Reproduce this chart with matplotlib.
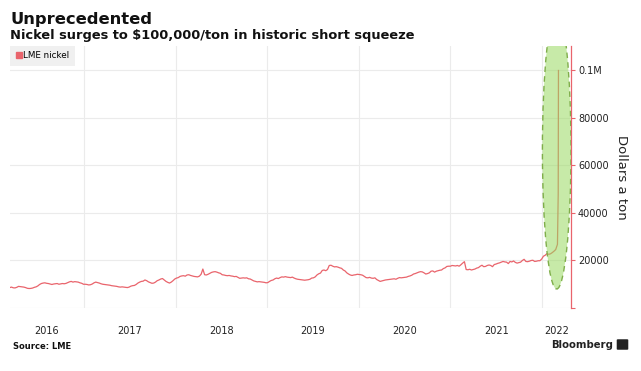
#!/usr/bin/env python3
"""LME nickel short squeeze chart, Bloomberg style."""

import datetime as dt

import matplotlib
matplotlib.use("Agg")
import matplotlib.dates as mdates
import matplotlib.pyplot as plt
import pandas as pd
from matplotlib.lines import Line2D
from matplotlib.patches import Ellipse, FancyBboxPatch

# weekly LME nickel, Fridays, dollars a ton
NICKEL_2016 = [
    8600, 8800, 8500,
    8450, 8700, 9100, 9000, 8900,
    8800, 8600, 8300, 8200,
    8250, 8400, 8700, 8900,
    9300, 9900, 10300, 10500, 10600,
    10400, 10300, 10100, 9900,
    10100, 10200, 10300, 10000, 10150,
    10300, 10200, 10350, 10700,
    11000, 11200, 10900, 11100,
    11000, 10900, 10600, 10400, 10000,
]
NICKEL_2017 = [
    10000, 9900, 9700, 9800,
    10100, 10600, 10900, 10700,
    10500, 10200, 10000, 9900, 9800,
    9700, 9600, 9400, 9300,
    9200, 9100, 8900, 8800,
    8900, 8800, 8700, 8600, 8800,
    9200, 9400, 9500, 9900,
    10500, 10900, 11200, 11300,
    11800, 11500, 11000, 10700, 10400,
    10500, 10900, 11500, 11800,
    12200, 12400, 11800, 11200,
    10800, 10500, 10900, 11500, 12200,
]
NICKEL_2018 = [
    12600, 12800, 13300, 13500,
    13600, 13400, 13900, 14000,
    13700, 13500, 13300, 13200, 13100,
    13400, 14200, 16400, 14000,
    13900, 14200, 14600, 15000,
    15200, 15300, 15100, 14800, 14600,
    14000, 13900, 13700, 13600,
    13700, 13500, 13400, 13200, 13300,
    12900, 12500, 12600, 12700,
    12600, 12700, 12300, 12200,
    11800, 11400, 11200, 11000, 11100,
    11000, 10900, 10800, 10600,
]
NICKEL_2019 = [
    10700, 11200, 11600, 11800,
    12300, 12600, 12400, 12800,
    13100, 13000, 13200, 13000, 12900,
    12800, 13000, 12600, 12300,
    12100, 12000, 11900, 11800, 11700,
    11800, 11900, 12100, 12600,
    12700, 13100, 13900, 14400,
    14700, 15800, 16000, 15700, 16200,
    17900, 18000, 17600, 17300,
    17400, 17200, 16900, 16700,
    16000, 15600, 14800, 14300, 13900,
    13700, 13900, 14000, 14200,
]
NICKEL_2020 = [
    14100, 14000, 13800, 13300, 12800,
    12700, 12900, 12600, 12500,
    12700, 12000, 11600, 11200,
    11400, 11600, 11800, 11900,
    12000, 12100, 12200, 12300, 12100,
    12500, 12800, 12700, 12800,
    12900, 13000, 13300, 13500, 13800,
    14300, 14500, 14800, 15100,
    15300, 15200, 14800, 14300,
    14500, 14800, 15500, 15600, 15100,
    15500, 15700, 15900, 16000,
    16600, 16900, 17500, 17600,
]
NICKEL_2021 = [
    17600, 17900, 17800, 17700, 17900,
    17600, 18200, 18900, 19500,
    16200, 16100, 16300, 16000,
    16200, 16400, 16800, 17000, 17600,
    18000, 17400, 17500, 17900,
    18100, 17900, 17400, 18300,
    18500, 18800, 19000, 19300, 19600,
    19400, 19300, 18700, 19600,
    19400, 19800, 19200, 18900,
    19100, 19300, 20000, 20500, 19600,
    19500, 19700, 20000, 20100,
    19600, 19700, 19900, 19900, 20600,
]
NICKEL_2022 = [21800, 22200, 22900, 22600, 22800, 23300, 23900, 24600, 26800]

SQUEEZE_DATES = ["2022-03-07", "2022-03-08"]
SQUEEZE_VALUES = [48000, 100000]

Y_TICKS = [0, 20000, 40000, 60000, 80000, 100000]
Y_TICK_LABELS = ["", "20000", "40000", "60000", "80000", "0.1M"]
YEARS = [2016, 2017, 2018, 2019, 2020, 2021, 2022]

RED = "#e9646c"
GRID = "#ebebeb"

weekly = (NICKEL_2016 + NICKEL_2017 + NICKEL_2018 + NICKEL_2019
          + NICKEL_2020 + NICKEL_2021 + NICKEL_2022)
dates = list(pd.date_range("2016-03-11", periods=len(weekly), freq="W-FRI"))
dates += list(pd.to_datetime(SQUEEZE_DATES))
values = weekly + SQUEEZE_VALUES

fig = plt.figure(figsize=(6.41, 3.71), dpi=100)
ax = fig.add_axes([10 / 641, 1 - 308 / 371, 561 / 641, 262 / 371])

ax.plot(dates, values, color=RED, linewidth=0.9, zorder=3)

x0 = dt.datetime(2016, 3, 12)
x1 = dt.datetime(2022, 4, 27)
ax.set_xlim(x0, x1)
ax.set_ylim(0, 110300)

# highlight the squeeze, semi-transparent so the line shows through
ell = Ellipse((mdates.date2num(dt.datetime(2022, 3, 1)), 66500),
              width=114, height=117000, facecolor=(0.6, 0.85, 0.38, 0.55),
              edgecolor="#7fae4a", linestyle=(0, (4, 3)), linewidth=1.0, zorder=4)
ax.add_patch(ell)

# y axis on the right
ax.yaxis.tick_right()
ax.yaxis.set_label_position("right")
ax.set_yticks(Y_TICKS)
ax.set_yticklabels(Y_TICK_LABELS)
ax.tick_params(axis="y", length=3, width=0.8, color=RED, labelsize=7,
               labelcolor="#222222", pad=2)
ax.set_ylabel("Dollars a ton", rotation=-90, fontsize=9.5, labelpad=14, color="#222222")

# years: gridlines at year starts, labels centered on the visible part of each year
starts = [dt.datetime(y, 1, 1) for y in YEARS[1:]]
ax.set_xticks(starts)
ax.set_xticklabels([])
ax.tick_params(axis="x", which="major", length=0)
mids = []
for y in YEARS:
    a = max(dt.datetime(y, 1, 1), x0)
    b = min(dt.datetime(y + 1, 1, 1), x1)
    mids.append(a + (b - a) / 2)
ax.set_xticks(mids, minor=True)
ax.set_xticklabels([str(y) for y in YEARS], minor=True)
ax.tick_params(axis="x", which="minor", length=0, labelsize=7,
               labelcolor="#222222", pad=13)

ax.grid(True, which="major", color=GRID, linewidth=0.8)
ax.set_axisbelow(True)
for side in ("top", "left", "bottom"):
    ax.spines[side].set_visible(False)
ax.spines["right"].set_color(RED)
ax.spines["right"].set_linewidth(0.9)

handle = Line2D([], [], marker="s", color=RED, linestyle="none", markersize=4.5)
leg = ax.legend([handle], ["LME nickel"], loc="upper left", bbox_to_anchor=(0.0, 1.0),
                fontsize=6.3, frameon=True, fancybox=False, borderaxespad=0.0,
                handletextpad=0.1, borderpad=0.6, handlelength=0.8)
leg.get_frame().set_facecolor("#f0f0f0")
leg.get_frame().set_edgecolor("none")
leg.get_frame().set_alpha(1.0)

fig.text(10 / 641, 1 - 24 / 371, "Unprecedented", fontsize=11.8, fontweight="bold",
         color="#111111", va="baseline")
fig.text(10 / 641, 1 - 39 / 371, "Nickel surges to $100,000/ton in historic short squeeze",
         fontsize=9.4, fontweight="bold", color="#111111", va="baseline")
fig.text(13 / 641, 1 - 349 / 371, "Source: LME", fontsize=6, fontweight="bold",
         color="#111111", va="baseline")
fig.text(613 / 641, 1 - 348 / 371, "Bloomberg", fontsize=7.3, fontweight="bold",
         color="#222222", va="baseline", ha="right")
fig.patches.append(FancyBboxPatch((618 / 641, 1 - 349 / 371), 9 / 641, 9 / 371,
                                  boxstyle="round,pad=0.002", transform=fig.transFigure,
                                  facecolor="#222222", edgecolor="none"))

fig.savefig("out.png", dpi=100)
